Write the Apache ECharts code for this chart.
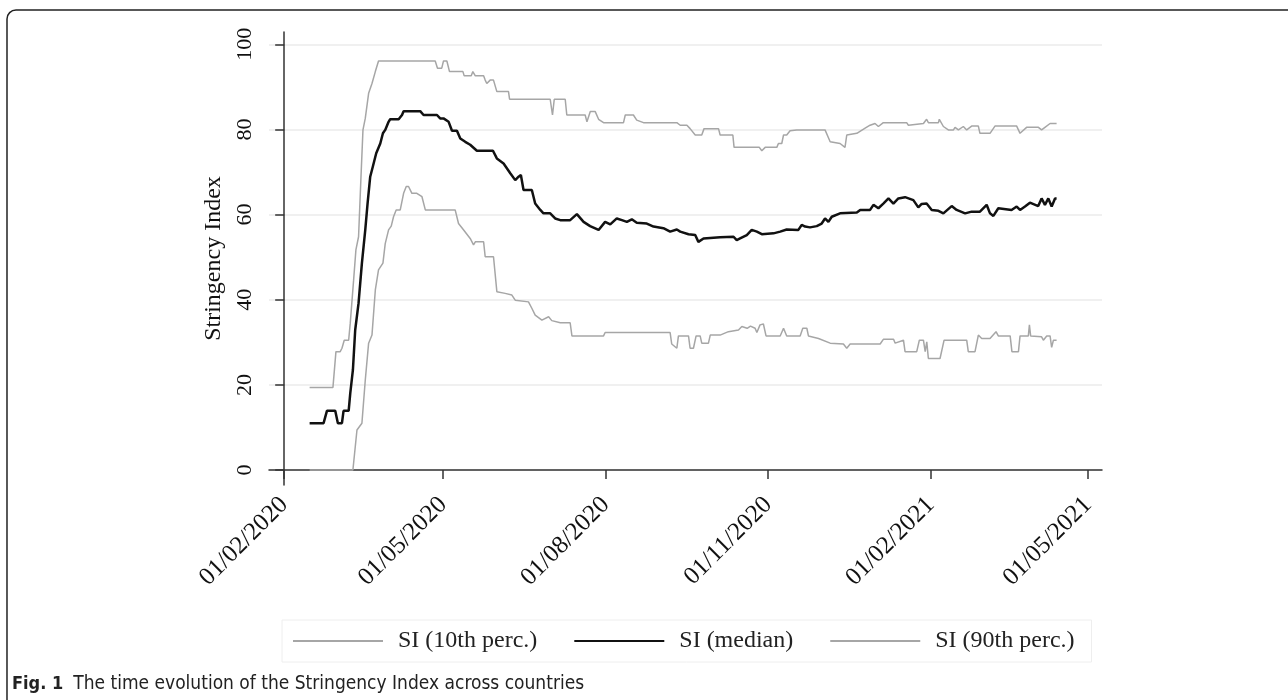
<!DOCTYPE html>
<html>
<head>
<meta charset="utf-8">
<script src="https://cdn.jsdelivr.net/npm/echarts@6/dist/echarts.min.js"></script>
<style>
html, body { margin: 0; padding: 0; background: #fff; }
#chart { width: 1288px; height: 700px; }
</style>
</head>
<body>
<div id="chart"></div>
<script>
// x values are days counted from 01/02/2020
var tickDays = [0, 90, 182, 274, 366, 455];
var tickLabels = ['01/02/2020', '01/05/2020', '01/08/2020', '01/11/2020', '01/02/2021', '01/05/2021'];
var yTicks = [0, 20, 40, 60, 80, 100];
var seriesNames = ['SI (10th perc.)', 'SI (median)', 'SI (90th perc.)'];

// SI (10th perc.)
var p10 = [
	[14.4, 0], [38.9, 0], [41.2, 9.4], [44.0, 11.0], [45.9, 21.1], [47.8, 29.8], [49.7, 31.7],
	[51.6, 42.3], [53.4, 47.0], [55.9, 48.6], [57.2, 53.2], [59.1, 56.4], [60.6, 57.3], [61.9, 59.5],
	[63.4, 61.1], [65.7, 61.1], [67.6, 65.0], [69.1, 66.6], [70.4, 66.6], [72.3, 65.0], [75.1, 65.0],
	[78.0, 64.2], [79.9, 61.1], [96.8, 61.1], [98.7, 57.9], [101.6, 56.4], [105.3, 54.4], [107.2, 52.9],
	[108.2, 53.6], [112.9, 53.6], [113.8, 50.1], [118.5, 50.1], [120.4, 41.9], [125.1, 41.5],
	[128.9, 41.1], [130.8, 39.9], [138.3, 39.5], [140.2, 38.0], [142.1, 36.4], [145.9, 35.2],
	[149.7, 36.0], [151.5, 35.1], [156.3, 34.6], [161.9, 34.6], [162.9, 31.5], [180.8, 31.5],
	[181.7, 32.3], [218.5, 32.3], [219.4, 29.6], [222.3, 28.6], [223.2, 31.5], [228.9, 31.5],
	[229.8, 28.6], [231.7, 28.6], [233.2, 31.5], [235.5, 31.5], [236.4, 29.8], [240.2, 29.8],
	[241.2, 31.7], [246.8, 31.7], [251.5, 32.5], [257.2, 32.9], [259.1, 33.7], [262.1, 33.3],
	[264.0, 33.8], [266.6, 33.3], [267.6, 32.3], [269.4, 34.1], [271.3, 34.3], [272.8, 31.5],
	[280.8, 31.5], [282.7, 33.3], [284.5, 31.5], [292.1, 31.5], [293.6, 33.3], [295.9, 33.3],
	[296.8, 31.5], [302.5, 30.9], [309.1, 29.8], [316.6, 29.6], [318.5, 28.6], [320.4, 29.6],
	[337.4, 29.6], [339.2, 30.7], [345.0, 30.7], [345.9, 29.8], [350.6, 30.5], [351.5, 27.8],
	[358.1, 27.8], [359.6, 30.5], [361.9, 30.5], [362.9, 27.8], [363.8, 30.1], [364.7, 26.2],
	[371.3, 26.2], [373.6, 30.5], [386.4, 30.5], [387.3, 27.8], [391.1, 27.8], [393.0, 31.7],
	[394.9, 30.9], [399.6, 30.9], [403.0, 32.5], [404.3, 31.5], [411.0, 31.5], [412.0, 27.8],
	[415.7, 27.8], [416.6, 31.5], [421.3, 31.5], [421.9, 34.1], [422.6, 31.5], [428.8, 31.3],
	[429.8, 30.5], [431.7, 31.5], [433.6, 31.5], [434.5, 28.8], [435.5, 30.5], [437.3, 30.5]
];

// SI (median)
var median = [
	[14.4, 11.0], [22.3, 11.0], [24.2, 13.9], [28.9, 13.9], [30.4, 11.0], [32.7, 11.0], [33.6, 13.9],
	[36.5, 13.9], [37.4, 18.0], [38.9, 23.5], [40.2, 32.9], [42.1, 39.2], [44.0, 48.6], [45.9, 56.4],
	[47.2, 62.6], [48.7, 68.9], [50.2, 71.3], [52.1, 74.4], [54.4, 76.7], [55.9, 79.1], [57.2, 79.9],
	[59.1, 81.8], [60.0, 82.4], [64.8, 82.4], [66.7, 83.4], [67.6, 84.3], [77.0, 84.3], [78.9, 83.4],
	[86.5, 83.4], [88.3, 82.6], [90.2, 82.6], [91.2, 83.0], [93.1, 81.8], [95.0, 79.7], [97.8, 79.7],
	[99.7, 77.9], [102.5, 77.1], [105.3, 76.4], [109.1, 75.0], [118.2, 75.0], [120.4, 73.2],
	[124.2, 72.0], [128.0, 69.7], [130.8, 68.1], [132.7, 68.9], [134.0, 69.3], [135.5, 65.8],
	[140.2, 65.8], [142.1, 62.6], [145.0, 61.1], [146.8, 60.3], [150.6, 60.3], [153.4, 59.1],
	[156.3, 58.7], [161.9, 58.7], [165.7, 60.1], [169.5, 58.3], [173.2, 57.3], [178.0, 56.4],
	[181.7, 58.3], [184.6, 57.7], [188.3, 59.1], [191.2, 58.7], [194.0, 58.3], [196.8, 58.9],
	[199.6, 58.1], [205.3, 57.9], [209.1, 57.2], [214.7, 56.8], [218.5, 56.0], [222.3, 56.5],
	[224.2, 56.0], [228.9, 55.4], [232.7, 55.2], [234.5, 53.6], [237.4, 54.4], [246.8, 54.7],
	[254.4, 54.8], [256.2, 54.0], [258.1, 54.4], [261.9, 55.2], [264.7, 56.4], [267.6, 56.0],
	[270.4, 55.4], [277.0, 55.6], [280.8, 56.0], [284.5, 56.5], [291.1, 56.4], [293.0, 57.6],
	[294.9, 57.2], [297.7, 57.0], [301.5, 57.3], [304.3, 57.9], [306.2, 59.1], [308.1, 58.3],
	[310.0, 59.5], [314.7, 60.3], [324.2, 60.5], [326.1, 61.1], [331.7, 61.1], [333.6, 62.3],
	[336.4, 61.5], [339.2, 62.6], [342.1, 63.8], [344.9, 62.6], [347.7, 63.8], [351.5, 64.1],
	[356.2, 63.4], [359.0, 61.7], [360.9, 62.5], [363.7, 62.6], [366.6, 61.1], [370.4, 60.9],
	[373.2, 60.3], [377.9, 62.0], [380.7, 61.1], [385.5, 60.3], [389.2, 60.7], [393.9, 60.7],
	[397.7, 62.3], [399.6, 60.3], [401.5, 59.7], [404.3, 61.5], [411.8, 61.1], [414.7, 61.9],
	[416.6, 61.1], [419.4, 61.9], [422.2, 62.8], [426.9, 62.0], [428.8, 63.8], [430.7, 62.3],
	[432.6, 63.8], [434.5, 61.9], [436.4, 63.8], [437.3, 63.8]
];

// SI (90th perc.)
var p90 = [
	[14.4, 19.4], [27.6, 19.4], [29.3, 27.8], [31.7, 27.8], [32.7, 28.6], [34.0, 30.5], [36.5, 30.5],
	[37.4, 34.5], [39.3, 44.6], [40.6, 51.7], [42.1, 54.8], [43.4, 68.1], [44.6, 79.9], [45.9, 82.6],
	[47.8, 88.5], [49.7, 90.8], [51.6, 93.6], [53.4, 96.1], [85.5, 96.1], [86.8, 94.4], [89.2, 94.4],
	[90.2, 96.1], [92.1, 96.1], [93.6, 93.6], [101.2, 93.6], [101.9, 92.6], [105.9, 92.6],
	[106.8, 93.6], [108.2, 92.6], [112.9, 92.6], [113.8, 91.6], [114.7, 90.8], [116.6, 91.6],
	[118.5, 91.6], [120.4, 88.9], [127.0, 88.9], [127.6, 87.1], [150.6, 87.1], [151.9, 83.4],
	[152.9, 87.1], [159.1, 87.1], [160.0, 83.4], [170.4, 83.4], [171.4, 81.8], [173.3, 84.2],
	[176.1, 84.2], [178.0, 82.4], [180.8, 81.6], [192.1, 81.6], [193.1, 83.4], [197.7, 83.4],
	[199.6, 82.2], [203.4, 81.6], [222.3, 81.6], [224.2, 81.0], [228.0, 81.0], [229.8, 80.2],
	[232.7, 78.7], [236.4, 78.7], [237.7, 80.2], [245.9, 80.2], [246.8, 78.7], [254.0, 78.7],
	[254.7, 75.8], [269.0, 75.8], [270.4, 75.0], [272.3, 75.8], [278.9, 75.8], [279.8, 76.7],
	[281.7, 76.7], [282.7, 78.7], [284.5, 78.7], [286.4, 79.7], [290.2, 79.9], [306.2, 79.9],
	[309.1, 77.1], [314.7, 76.7], [317.5, 75.8], [318.5, 78.7], [324.2, 79.1], [328.9, 80.3],
	[331.7, 81.0], [334.5, 81.4], [336.4, 80.7], [339.2, 81.6], [352.4, 81.6], [353.4, 81.0],
	[354.3, 81.4], [361.9, 81.4], [363.7, 82.4], [364.7, 81.6], [370.4, 81.6], [370.9, 82.4],
	[373.2, 80.7], [376.0, 79.9], [378.9, 79.9], [379.8, 80.5], [381.7, 79.9], [384.5, 80.7],
	[386.4, 79.9], [389.2, 80.8], [393.0, 80.8], [393.9, 79.1], [399.6, 79.1], [402.4, 80.8],
	[414.7, 80.8], [416.6, 79.1], [420.3, 80.5], [427.0, 80.5], [428.8, 79.9], [430.7, 80.5],
	[433.6, 81.4], [437.3, 81.4]
];

var serif = 'Liberation Serif';
var grey = '#a6a6a6';

var myChart = echarts.init(document.getElementById('chart'), null, { renderer: 'canvas' });

var option = {
	animation: false,
	backgroundColor: '#fff',
	title: {
		left: 12,
		top: 675,
		padding: 0,
		text: '{b|Fig. 1}  {n|The time evolution of the Stringency Index across countries}',
		textStyle: {
			rich: {
				b: { fontFamily: 'DejaVu Sans Condensed', fontWeight: 'bold', fontSize: 18, color: '#222' },
				n: { fontFamily: 'DejaVu Sans Condensed', fontWeight: 'normal', fontSize: 19, color: '#222' }
			}
		}
	},
	graphic: [{
		type: 'rect',
		silent: true,
		shape: { x: 7, y: 10, width: 1300, height: 720, r: 9 },
		style: { fill: 'none', stroke: '#222', lineWidth: 1.5 }
	}],
	legend: {
		left: 282,
		top: 620,
		itemWidth: 90,
		itemHeight: 10,
		itemGap: 36,
		padding: [9, 17, 9, 10],
		borderColor: '#eeeeee',
		borderWidth: 1,
		itemStyle: { opacity: 0 },
		textStyle: { fontFamily: serif, fontSize: 24, color: '#222', padding: [0, 0, 0, 10] },
		data: seriesNames
	},
	grid: { left: 269, right: 186, top: 32, bottom: 215 },
	xAxis: {
		type: 'value',
		min: -8.6,
		max: 463,
		axisLine: { lineStyle: { color: '#333', width: 1.5 } },
		axisTick: { show: true, length: 9, customValues: tickDays, lineStyle: { color: '#333', width: 1.5 } },
		axisLabel: {
			customValues: tickDays,
			rotate: 45,
			margin: 16,
			fontFamily: serif,
			fontSize: 25,
			color: '#111',
			formatter: function (v) {
				return tickLabels[tickDays.indexOf(v)] || '';
			}
		},
		splitLine: { show: false }
	},
	yAxis: {
		type: 'value',
		min: -3.52,
		max: 102.9,
		name: 'Stringency Index',
		nameLocation: 'middle',
		nameGap: 32,
		nameTextStyle: { fontFamily: serif, fontSize: 24, color: '#111' },
		axisLine: { show: true, lineStyle: { color: '#333', width: 1.5 } },
		axisTick: { show: true, length: 9, customValues: yTicks, lineStyle: { color: '#333', width: 1.5 } },
		axisLabel: {
			customValues: yTicks,
			rotate: 90,
			margin: 13,
			fontFamily: serif,
			fontSize: 22,
			color: '#111'
		},
		splitLine: { show: true, lineStyle: { color: '#ebebeb', width: 1.5 } }
	},
	series: [{
		name: seriesNames[0],
		type: 'line',
		symbol: 'none',
		data: p10,
		lineStyle: { color: grey, width: 1.5 },
		itemStyle: { color: grey }
	}, {
		name: seriesNames[1],
		type: 'line',
		symbol: 'none',
		data: median,
		lineStyle: { color: '#111', width: 2.5 },
		itemStyle: { color: '#111' }
	}, {
		name: seriesNames[2],
		type: 'line',
		symbol: 'none',
		data: p90,
		lineStyle: { color: grey, width: 1.5 },
		itemStyle: { color: grey }
	}]
};

myChart.setOption(option);
window.addEventListener('resize', myChart.resize);
</script>
</body>
</html>
